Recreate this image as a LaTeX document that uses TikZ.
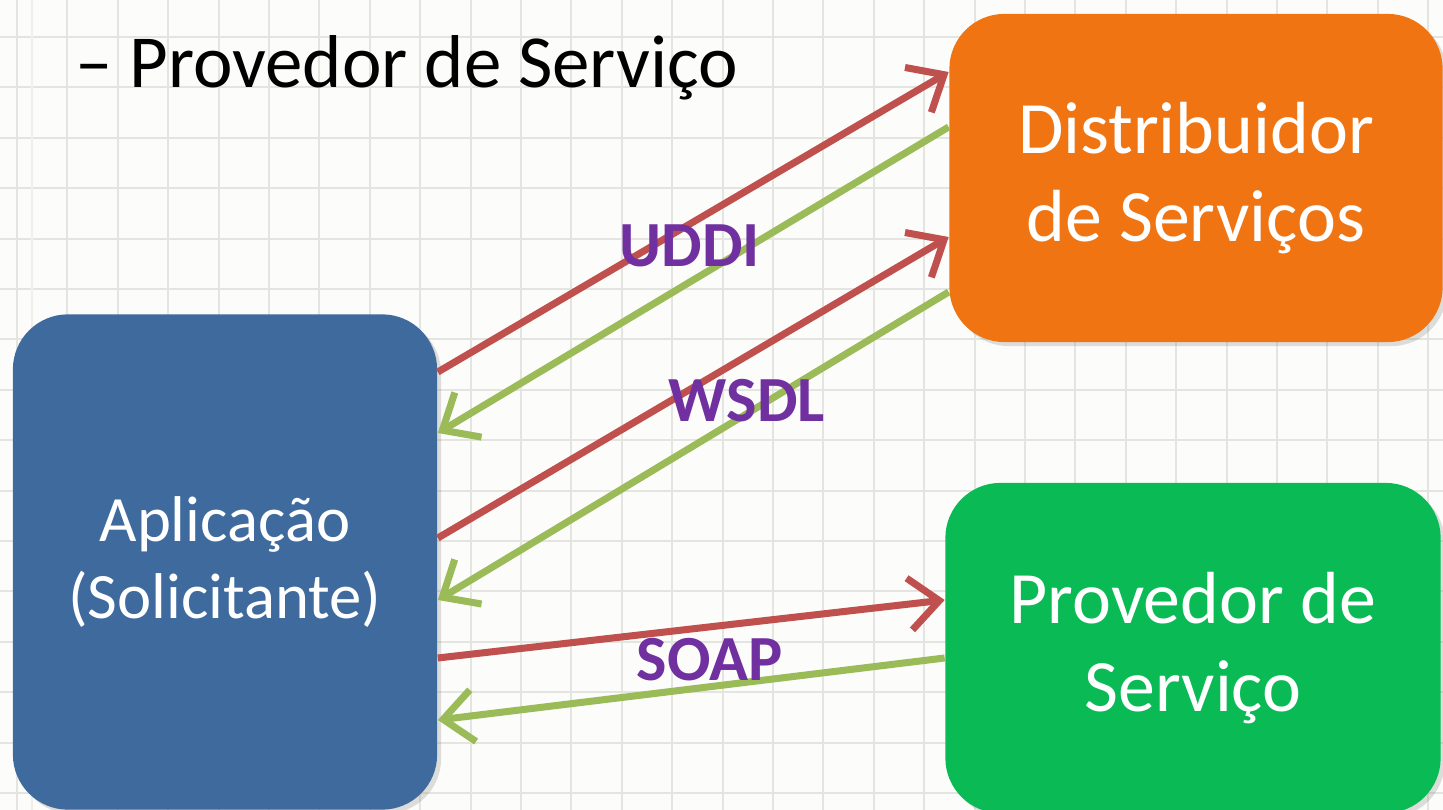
\documentclass[tikz,border=0pt]{standalone}
\usepackage{fontspec}
\setmainfont{Carlito}
\usetikzlibrary{arrows.meta,shadows}
\definecolor{fundo}{HTML}{FCFDFA}
\definecolor{grade}{HTML}{E4E5E0}
\definecolor{azul}{HTML}{3F6A9E}
\definecolor{laranja}{HTML}{F07512}
\definecolor{verde}{HTML}{0ABA55}
\definecolor{pedido}{HTML}{C0504D}
\definecolor{resposta}{HTML}{9BBB59}
\definecolor{roxo}{HTML}{7030A0}
\tikzset{
  caixa/.style={draw=none,rounded corners=0.55cm,text=white,align=center,
    font=\fontsize{21}{25}\selectfont,drop shadow={opacity=0.25,shadow xshift=0.04cm,shadow yshift=-0.04cm}},
  seta/.style={line width=2pt,-{Straight Barb[length=3mm,width=5.2mm,line width=2pt]}},
  protocolo/.style={text=roxo,font=\fontsize{18.3}{22}\selectfont\bfseries}
}
\begin{document}
\begin{tikzpicture}[x=0.01cm,y=-0.01cm]
  \useasboundingbox (0,0) rectangle (1443,810);
  \fill[fundo] (0,0) rectangle (1443,810);
  % grade do fundo
  \foreach \X in {17,67.4,...,1443}
  \draw[grade,line width=0.6pt] (\X,0) -- (\X,810);
  \foreach \Y in {37,87.4,...,810}
  \draw[grade,line width=0.6pt] (0,\Y) -- (1443,\Y);
  \draw[grade!60,line width=0.5pt] (32,0) -- (32,810);

  \node[anchor=west,font=\fontsize{21.3}{25}\selectfont] (titulo) at (63,68) {– Provedor de Serviço};

  \node[caixa,fill=azul,minimum width=4.24cm,minimum height=4.95cm,font=\fontsize{18.4}{22}\selectfont] (app) at (225,562) {Aplicação\\(Solicitante)};
  \node[caixa,fill=laranja,minimum width=4.93cm,minimum height=3.28cm] (dist) at (1196,178) {Distribuidor\\de Serviços};
  \node[caixa,fill=verde,minimum width=4.95cm,minimum height=3.3cm] (prov) at (1193,648) {Provedor de\\Serviço};

  \draw[seta,pedido] (app.east |- 0,372) -- (dist.west |- 0,72);
  \draw[seta,resposta] (dist.west |- 0,127) -- (app.east |- 0,433);
  \draw[seta,pedido] (app.east |- 0,538) -- (dist.west |- 0,237);
  \draw[seta,resposta] (dist.west |- 0,292) -- (app.east |- 0,600);
  \draw[seta,pedido] (app.east |- 0,658) -- (prov.west |- 0,600);
  \draw[seta,resposta] (prov.west |- 0,658) -- (app.east |- 0,720);

  \node[protocolo] (uddi) at (690,246) {UDDI};
  \node[protocolo] (wsdl) at (747,401) {WSDL};
  \node[protocolo] (soap) at (710,660) {SOAP};
\end{tikzpicture}
\end{document}
